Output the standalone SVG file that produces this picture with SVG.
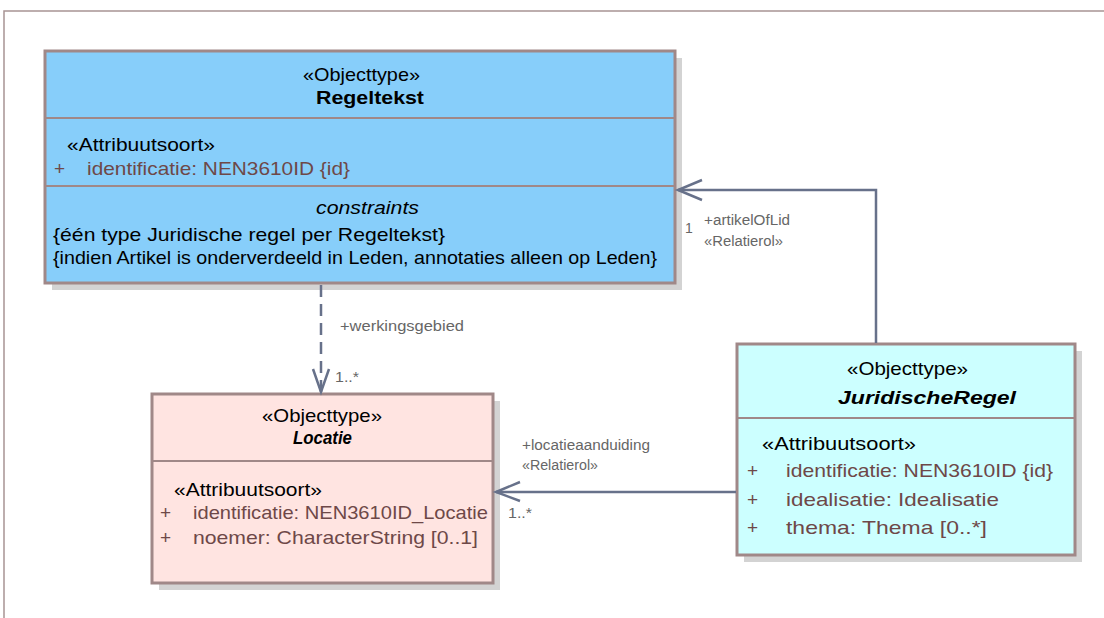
<svg xmlns="http://www.w3.org/2000/svg" width="1104" height="618" viewBox="0 0 1104 618">
<style>
text{font-family:"Liberation Sans",Arial,sans-serif;fill:#000}
.st{font-size:19px}
.ttl{font-size:19px;font-weight:bold}
.ttli{font-size:19px;font-weight:bold;font-style:italic}
.at{font-size:19px;fill:#6e4848}
.lbl{font-size:14px;fill:#666}
.box{stroke:#a08888;stroke-width:3}
.sh{fill:#d3d3d3}
.sep{stroke:#a08888;stroke-width:2}
.con{stroke:#67718a;stroke-width:2.5;fill:none}
</style>
<rect width="1104" height="618" fill="#fff"/>
<path d="M4,618 V11 H1104" fill="none" stroke="#a89494" stroke-width="1.5"/>
<g id="Regeltekst">
<rect class="sh" x="52" y="58" width="630" height="232"/>
<rect class="box" x="45" y="51" width="630" height="232" fill="#87cefa"/>
<line class="sep" x1="45" y1="118" x2="675" y2="118"/>
<line class="sep" x1="45" y1="186" x2="675" y2="186"/>
<text class="st" x="303" y="81" textLength="117" lengthAdjust="spacingAndGlyphs">«Objecttype»</text>
<text class="ttl" x="316" y="104" textLength="108" lengthAdjust="spacingAndGlyphs">Regeltekst</text>
<text class="st" x="67" y="151" textLength="148" lengthAdjust="spacingAndGlyphs">«Attribuutsoort»</text>
<text class="at" x="54" y="175">+</text>
<text class="at" x="87" y="175" textLength="263" lengthAdjust="spacingAndGlyphs">identificatie: NEN3610ID {id}</text>
<text class="st" x="316" y="214" font-style="italic" textLength="103" lengthAdjust="spacingAndGlyphs">constraints</text>
<text class="st" x="53" y="241" textLength="392" lengthAdjust="spacingAndGlyphs">{één type Juridische regel per Regeltekst}</text>
<text class="st" x="53" y="264" textLength="604" lengthAdjust="spacingAndGlyphs">{indien Artikel is onderverdeeld in Leden, annotaties alleen op Leden}</text>
</g>
<g id="Locatie">
<rect class="sh" x="159" y="401" width="341" height="189"/>
<rect class="box" x="152" y="394" width="341" height="189" fill="#ffe4e1"/>
<line class="sep" x1="152" y1="461" x2="493" y2="461"/>
<text class="st" x="262" y="422" textLength="120" lengthAdjust="spacingAndGlyphs">«Objecttype»</text>
<text class="ttli" x="293" y="444" textLength="59" lengthAdjust="spacingAndGlyphs">Locatie</text>
<text class="st" x="174" y="496" textLength="148" lengthAdjust="spacingAndGlyphs">«Attribuutsoort»</text>
<text class="at" x="160" y="519">+</text>
<text class="at" x="193" y="519" textLength="295" lengthAdjust="spacingAndGlyphs">identificatie: NEN3610ID_Locatie</text>
<text class="at" x="160" y="544">+</text>
<text class="at" x="193" y="544" textLength="285" lengthAdjust="spacingAndGlyphs">noemer: CharacterString [0..1]</text>
</g>
<g id="JuridischeRegel">
<rect class="sh" x="744" y="351" width="338" height="211"/>
<rect class="box" x="737" y="344" width="338" height="211" fill="#ccffff"/>
<line class="sep" x1="737" y1="418" x2="1075" y2="418"/>
<text class="st" x="847" y="375" textLength="121" lengthAdjust="spacingAndGlyphs">«Objecttype»</text>
<text class="ttli" x="838" y="404" textLength="178" lengthAdjust="spacingAndGlyphs">JuridischeRegel</text>
<text class="st" x="762" y="450" textLength="154" lengthAdjust="spacingAndGlyphs">«Attribuutsoort»</text>
<text class="at" x="747" y="477">+</text>
<text class="at" x="786" y="477" textLength="267" lengthAdjust="spacingAndGlyphs">identificatie: NEN3610ID {id}</text>
<text class="at" x="747" y="506">+</text>
<text class="at" x="786" y="506" textLength="213" lengthAdjust="spacingAndGlyphs">idealisatie: Idealisatie</text>
<text class="at" x="747" y="534">+</text>
<text class="at" x="786" y="534" textLength="201" lengthAdjust="spacingAndGlyphs">thema: Thema [0..*]</text>
</g>
<g id="connectors">
<path class="con" d="M876,343 V190 H678"/>
<path class="con" d="M702,180 L678,190 L702,200"/>
<text class="lbl" x="685" y="233">1</text>
<text class="lbl" x="704" y="225" textLength="86" lengthAdjust="spacingAndGlyphs">+artikelOfLid</text>
<text class="lbl" x="704" y="246" textLength="79" lengthAdjust="spacingAndGlyphs">«Relatierol»</text>
<path class="con" d="M321,285 V392" stroke-dasharray="12,7"/>
<path class="con" d="M313,369 L321,392 L329,369"/>
<text class="lbl" x="340" y="331" textLength="124" lengthAdjust="spacingAndGlyphs">+werkingsgebied</text>
<text class="lbl" x="335" y="382" textLength="24" lengthAdjust="spacingAndGlyphs">1..*</text>
<path class="con" d="M736,492 H496"/>
<path class="con" d="M520,482 L496,492 L520,501"/>
<text class="lbl" x="522" y="450" textLength="128" lengthAdjust="spacingAndGlyphs">+locatieaanduiding</text>
<text class="lbl" x="522" y="470" textLength="76" lengthAdjust="spacingAndGlyphs">«Relatierol»</text>
<text class="lbl" x="508" y="518" textLength="24" lengthAdjust="spacingAndGlyphs">1..*</text>
</g>
</svg>
